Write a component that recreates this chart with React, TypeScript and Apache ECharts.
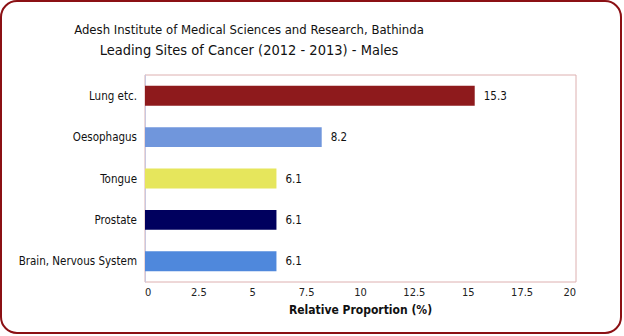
import React, { useEffect, useRef } from "react";
import * as echarts from "echarts";

const categories = ["Brain, Nervous System", "Prostate", "Tongue", "Oesophagus", "Lung etc."];
const values = [6.1, 6.1, 6.1, 8.2, 15.3];
const barColors = ["#4F88DC", "#00005E", "#E6E65C", "#7096DC", "#8E1A1C"];
const xTicks = [0, 2.5, 5, 7.5, 10, 12.5, 15, 17.5, 20];

export default function App() {
  const ref = useRef<HTMLDivElement>(null);
  useEffect(() => {
    const chart = echarts.init(ref.current!, null, { renderer: "svg" });
    const font = "'DejaVu Sans Condensed', 'DejaVu Sans', sans-serif";
    chart.setOption({
      animation: false,
      backgroundColor: "#ffffff",
      textStyle: { fontFamily: font },
      graphic: [
        {
          type: "rect",
          shape: { x: 1, y: 1, width: 620, height: 332, r: 16 },
          style: { fill: "none", stroke: "#8B1014", lineWidth: 2 },
          silent: true,
        },
        {
          type: "text",
          x: 249,
          y: 29,
          style: {
            text: "Adesh Institute of Medical Sciences and Research, Bathinda",
            font: `13px ${font}`,
            fill: "#111",
            textAlign: "center",
            textVerticalAlign: "middle",
          },
        },
        {
          type: "text",
          x: 249,
          y: 50,
          style: {
            text: "Leading Sites of Cancer (2012 - 2013) - Males",
            font: `14.5px ${font}`,
            fill: "#111",
            textAlign: "center",
            textVerticalAlign: "middle",
          },
        },
      ],
      grid: {
        left: 145,
        right: 48,
        top: 75,
        bottom: 54,
        show: true,
        borderColor: "#DDB0B0",
        borderWidth: 1,
      },
      xAxis: {
        type: "value",
        min: 0,
        max: 20,
        interval: 2.5,
        name: "Relative Proportion (%)",
        nameLocation: "middle",
        nameGap: 22,
        nameTextStyle: { fontSize: 12, fontWeight: "bold", color: "#111", fontFamily: font },
        axisLine: { show: false },
        axisTick: { show: false },
        splitLine: { show: false },
        axisLabel: {
          fontSize: 11,
          color: "#222",
          margin: 5,
          alignMinLabel: "left",
          alignMaxLabel: "right",
          formatter: (v: number) => (xTicks.includes(v) ? String(v) : ""),
        },
      },
      yAxis: {
        type: "category",
        data: categories,
        axisLine: { show: true, lineStyle: { color: "#C8C8E0" } },
        axisTick: { show: false },
        axisLabel: { fontSize: 11.5, color: "#111", margin: 8 },
      },
      series: [
        {
          type: "bar",
          data: values.map((v, i) => ({ value: v, itemStyle: { color: barColors[i] } })),
          barWidth: "48%",
          label: {
            show: true,
            position: "right",
            distance: 9,
            fontSize: 11.5,
            color: "#111",
            formatter: (p: any) => p.value.toFixed(1),
          },
        },
      ],
    });
    return () => chart.dispose();
  }, []);
  return (
    <div
      ref={ref}
      style={{ position: "fixed", left: 0, top: 0, width: 624, height: 336 }}
    />
  );
}
